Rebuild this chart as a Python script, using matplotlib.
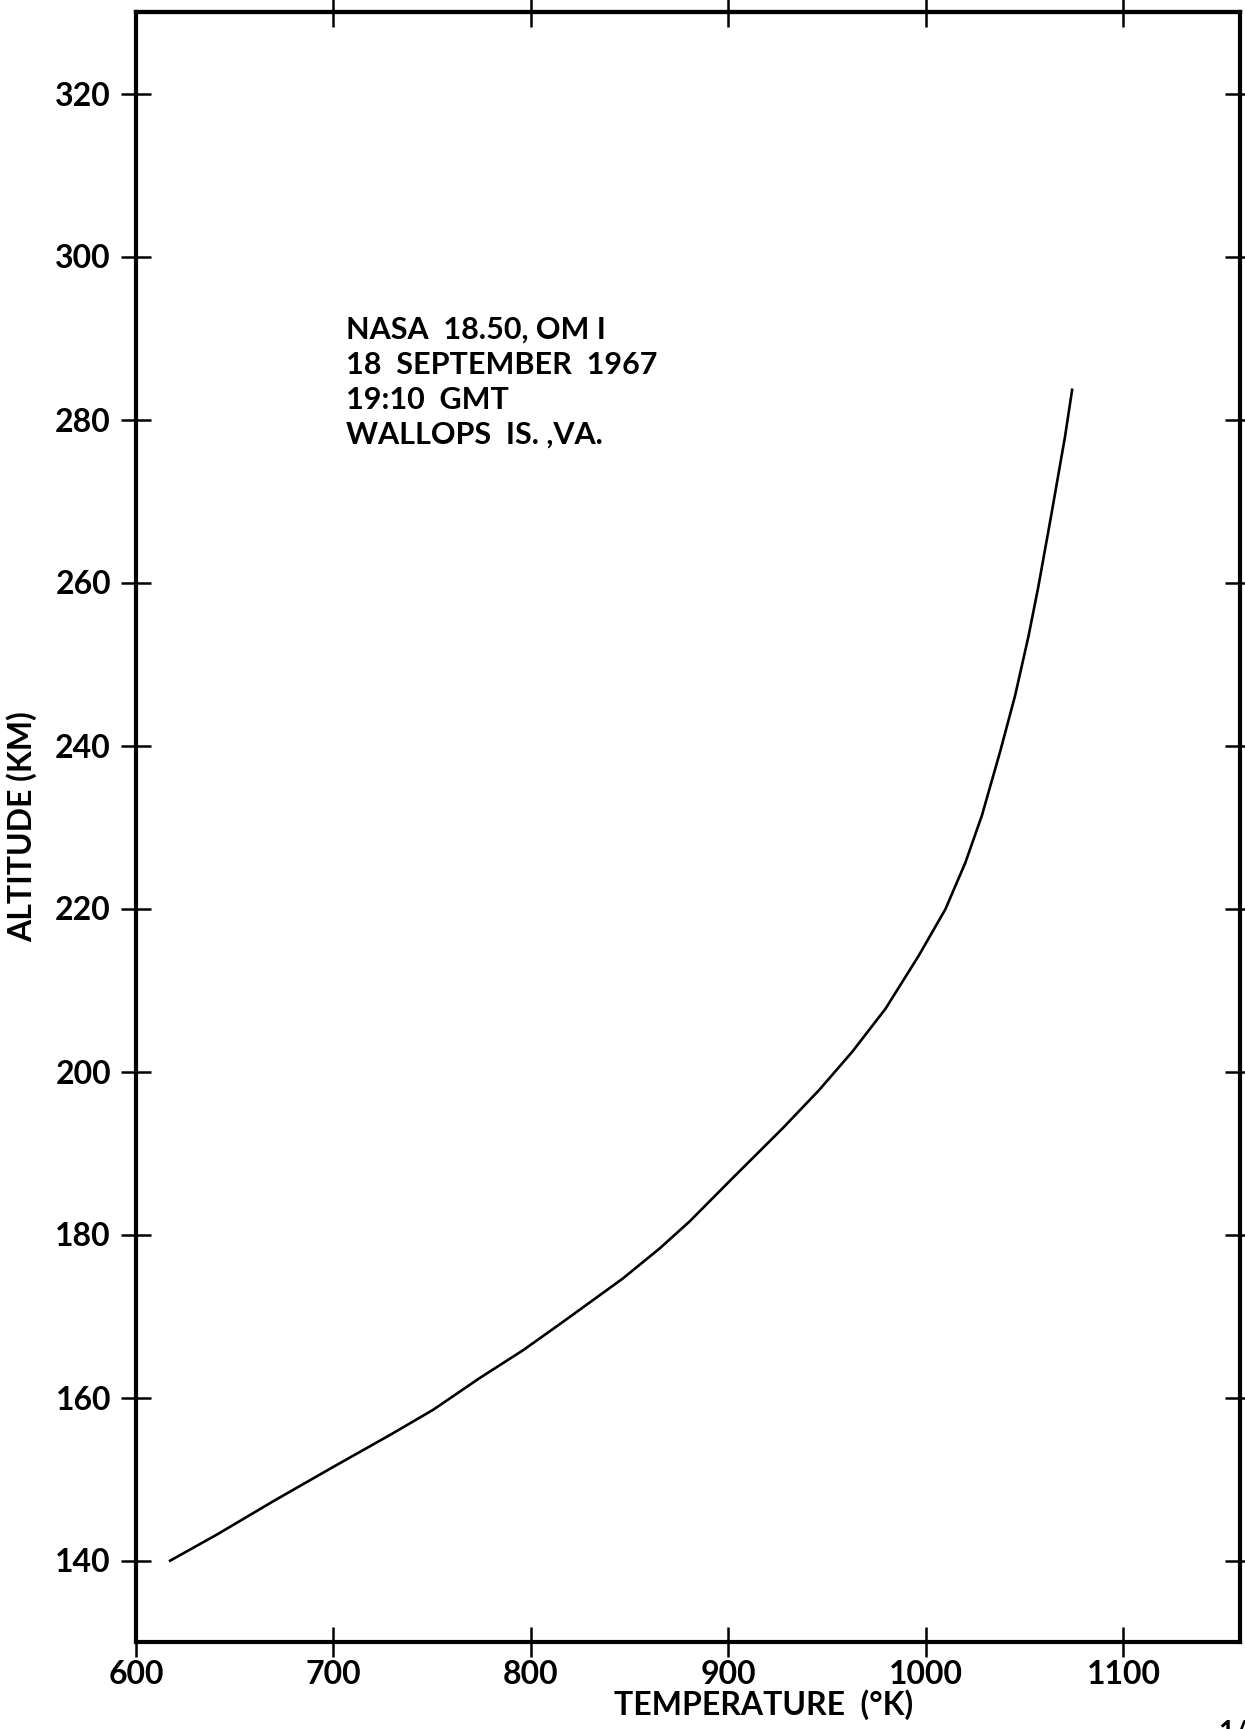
"""
Perfil de temperatura x altitude — NASA 18.50, Wallops Is., 18 set 1967.
Valores lidos da figura original.
"""
import matplotlib
matplotlib.use("Agg")
import matplotlib.pyplot as plt

# Curva (temperatura em K, altitude em km)
temperatura = [616.7, 641.1, 669.7, 700.0, 728.6, 750.5, 774.1, 796.0, 816.3,
               846.5, 865.2, 880.3, 902.0, 927.3, 945.8, 962.6, 979.5, 996.3,
               1009.8, 1019.9, 1028.3, 1037.6, 1045.1, 1051.9, 1056.9, 1063.6,
               1070.4, 1074.1]
altitude = [139.9, 143.2, 147.3, 151.5, 155.4, 158.5, 162.4, 165.8, 169.3,
            174.6, 178.3, 181.6, 186.9, 193.0, 197.7, 202.4, 207.7, 214.2,
            219.9, 225.6, 231.4, 239.3, 246.1, 253.4, 259.5, 268.5,
            277.9, 283.8]

ticks_x = [600, 700, 800, 900, 1000, 1100]
ticks_x_topo = [700, 800, 900, 1000, 1100]
ticks_y = [140, 160, 180, 200, 220, 240, 260, 280, 300, 320]

anotacao = ["NASA  18.50, OM I",
            "18  SEPTEMBER  1967",
            "19:10  GMT",
            "WALLOPS  IS. ,VA."]

plt.rcParams["font.family"] = ["Lato", "DejaVu Sans"]
plt.rcParams["font.weight"] = "bold"
plt.rcParams["axes.labelweight"] = "bold"

W, H = 1245, 1729
fig = plt.figure(figsize=(W / 100, H / 100), dpi=100)
ax = fig.add_axes([136 / W, 1 - 1642 / H, (1240 - 136) / W, (1642 - 12) / H])

ax.plot(temperatura, altitude, color="black", lw=1.9, solid_capstyle="butt")

ax.set_xlim(600, 1159)
ax.set_ylim(130, 330)
for s in ax.spines.values():
    s.set_linewidth(3.0)

ax.set_xticks(ticks_x)
ax.set_yticks(ticks_y)
ax.tick_params(axis="both", direction="inout", length=22, width=1.8,
               labelsize=23, colors="black")
ax.tick_params(axis="x", pad=2)
ax.tick_params(axis="y", pad=7)
ax.tick_params(axis="y", which="both", right=True)
for lab in ax.get_xticklabels() + ax.get_yticklabels():
    lab.set_fontweight("bold")

# ticks do topo sem rótulo
topo = ax.secondary_xaxis("top")
topo.set_xticks(ticks_x_topo)
topo.tick_params(direction="inout", length=22, width=1.8)
topo.set_xticklabels([])
topo.spines["top"].set_linewidth(3.0)

ax.set_xlabel("TEMPERATURE  (°K)", fontsize=23, fontweight="bold")
ax.xaxis.set_label_coords(0.568, -0.029)
ax.set_ylabel("ALTITUDE (KM)", fontsize=23, fontweight="bold", va="center")
ax.yaxis.set_label_coords(-0.103, 0.50)

for i, linha in enumerate(anotacao):
    fig.text(346 / W, 1 - (316 + 35 * i) / H, linha, fontsize=22,
             fontweight="bold", va="top", ha="left")

fig.text(1218 / W, 1 - 1720 / H, "1/9", fontsize=20, fontweight="bold",
         va="top", ha="left")

fig.savefig("out.png", dpi=100)
